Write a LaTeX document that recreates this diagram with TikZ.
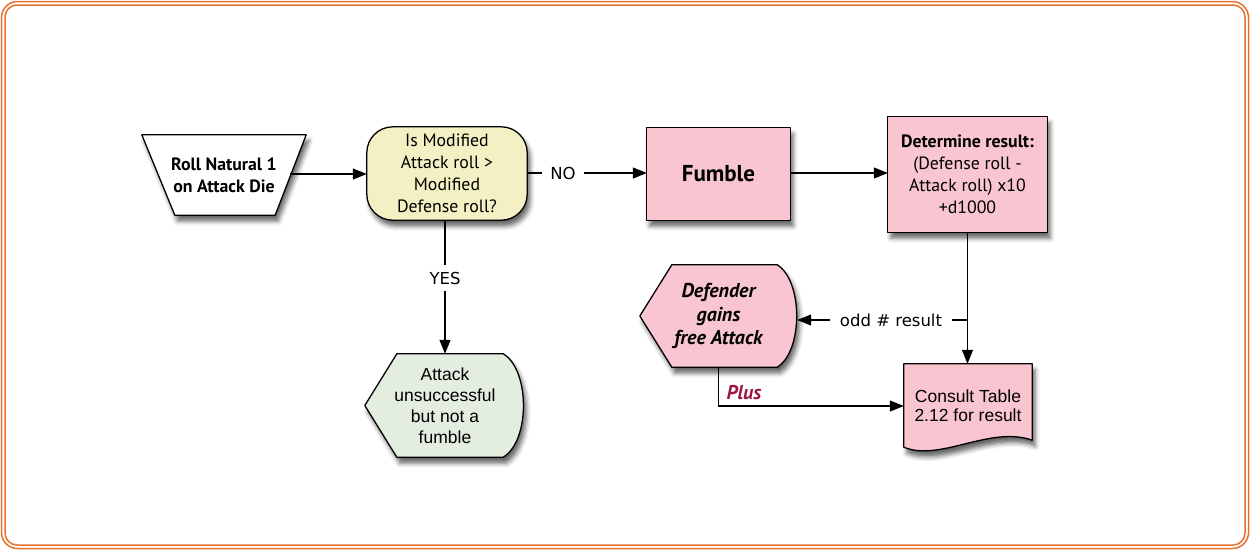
\documentclass[tikz,border=0pt]{standalone}
\usepackage{fontspec}
\setmainfont{Liberation Sans}
\newfontfamily\myr{PT Sans}
\newfontfamily\lbl{DejaVu Sans}
\usetikzlibrary{shadows.blur,calc,arrows.meta}
\definecolor{bord}{HTML}{E8702D}
\definecolor{yel}{HTML}{F3F0C3}
\definecolor{pnk}{HTML}{F8C5D0}
\definecolor{grn}{HTML}{E3EDE0}
\definecolor{plusc}{HTML}{9C1740}
\pgfdeclarelayer{bg}
\pgfsetlayers{bg,main}
\begin{document}
\begin{tikzpicture}[x=1pt,y=-1pt,
  box/.style={inner sep=0pt, align=center},
  shp/.style={draw=black, line width=1.3pt, line join=round,
    blur shadow={shadow xshift=3pt, shadow yshift=-6pt, shadow blur radius=4.5pt, shadow opacity=60}},
  conn/.style={line width=1.1pt},
  arr/.style={conn,-{Triangle[length=14pt,width=11pt]}},
  hv/.style={font=\fontsize{17.5}{21}\selectfont},
  my/.style={font=\myr\fontsize{17.8}{22}\selectfont},
  lab/.style={font=\lbl\fontsize{16.5}{20}\selectfont, inner ysep=7pt, inner xsep=8pt}]
\useasboundingbox (0,0) rectangle (1250,550);

% nodes (shape boxes)
\node[box, my, minimum width=164pt, minimum height=80pt] (trap) at (224,175) {\bfseries Roll Natural 1\\\bfseries on Attack Die};
\node[box, my, minimum width=160pt, minimum height=93pt] (q) at (447,173.5) {Is Modified\\Attack roll >\\Modified\\Defense roll?};
\node[box, font=\myr\bfseries\fontsize{23}{26}\selectfont, minimum width=143pt, minimum height=92pt] (fum) at (718.5,174) {Fumble};
\node[box, my, minimum width=159pt, minimum height=115pt] (det) at (967.5,174.5) {\bfseries Determine result:\\(Defense roll -\\Attack roll) x10\\+d1000};
\node[box, hv, minimum width=128pt, minimum height=84pt] (cons) at (968,406) {\raisebox{-2pt}{Consult Table}\\2.12 for result};
\node[box, hv, minimum width=160pt, minimum height=103pt] (att) at (445,405.5) {Attack\\unsuccessful\\but not a\\fumble};
\node[box, font=\myr\bfseries\itshape\fontsize{20}{23.5}\selectfont, minimum width=157pt, minimum height=102pt] (def) at (718.5,316) {Defender\\gains\\free Attack};

% labels
\node[lab] (no) at (563,173) {NO};
\node[lab] (yes) at (445,278) {YES};
\node[lab, inner xsep=10pt] (odd) at (891,320) {odd \# result};
\node[font=\myr\bfseries\itshape\fontsize{20}{22}\selectfont, text=plusc, inner sep=0pt] (plus) at (744,393) {Plus};
\coordinate (trapR) at (290,174);

% connectors
\draw[arr] (trapR) -- (q.west |- trapR);
\draw[conn] (q.east |- no.west) -- (no.west);
\draw[arr] (no.east) -- (fum.west |- no.east);
\draw[arr] (fum.east |- no.east) -- (det.west |- no.east);
\draw[conn] (q.south -| yes.north) -- (yes.north);
\draw[arr] (yes.south) -- (yes.south |- att.north);
\draw[arr] (det.south) -- (det.south |- cons.north);
\draw[conn] (odd.east) -- (odd.east -| det.south);
\draw[arr] (odd.west) -- (def.east |- odd.west);
\draw[arr] (def.south) |- (cons.west);

\begin{pgfonlayer}{bg}
  % border
  \draw[bord, line width=1.5pt, rounded corners=16pt] (1.5,1.5) rectangle (1248.5,548.5);
  \draw[bord, line width=1.5pt, rounded corners=12pt] (5,5) rectangle (1245,545);
  % shapes
  \draw[shp, fill=white] (trap.north west) -- (trap.north east)
     -- ($(trap.south east)+(-31,0)$) -- ($(trap.south west)+(33,0)$) -- cycle;
  \draw[shp, fill=yel, rounded corners=26pt] (q.north west) rectangle (q.south east);
  \draw[shp, fill=pnk] (fum.north west) rectangle (fum.south east);
  \draw[shp, fill=pnk] (det.north west) rectangle (det.south east);
  \draw[shp, fill=pnk] ($(cons.south west)+(0,-1)$) -- (cons.north west) -- (cons.north east)
     -- ($(cons.south east)+(0,-8)$)
     .. controls ($(cons.south east)+(-42,-23)$) and ($(cons.south west)+(36,14)$) .. ($(cons.south west)+(0,-1)$) -- cycle;
  \draw[shp, fill=grn] (att.west) -- ($(att.north west)+(32,0)$) -- ($(att.north east)+(-22,0)$)
     .. controls ($(att.north east)+(5,16)$) and ($(att.south east)+(5,-16)$) .. ($(att.south east)+(-22,0)$)
     -- ($(att.south west)+(32,0)$) -- cycle;
  \draw[shp, fill=pnk] (def.west) -- ($(def.north west)+(32,0)$) -- ($(def.north east)+(-20,0)$)
     .. controls ($(def.north east)+(6,16)$) and ($(def.south east)+(6,-16)$) .. ($(def.south east)+(-20,0)$)
     -- ($(def.south west)+(32,0)$) -- cycle;
\end{pgfonlayer}
\end{tikzpicture}
\end{document}
